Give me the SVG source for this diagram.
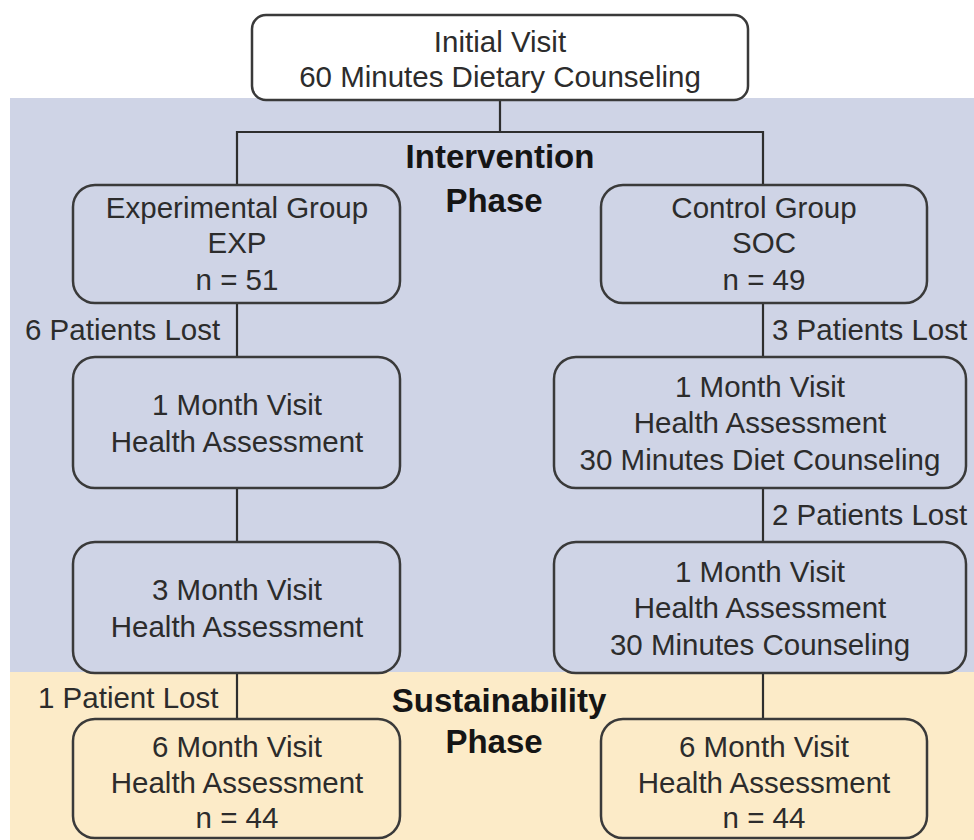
<svg xmlns="http://www.w3.org/2000/svg" width="974" height="840" viewBox="0 0 974 840">
  <style>
    .box { stroke: #3a3a3a; stroke-width: 2.5; fill: none; }
    .box-white { stroke: #3a3a3a; stroke-width: 2.5; fill: #ffffff; }
    .link { stroke: #2e2e2e; stroke-width: 2.2; fill: none; }
    text { font-family: "Liberation Sans", Arial, sans-serif; fill: #2c2c2c; }
    .t { font-size: 29.5px; text-anchor: middle; }
    .lbl { font-size: 29.5px; }
    .phase { font-size: 33px; font-weight: bold; text-anchor: middle; fill: #151515; }
  </style>

  <!-- background bands -->
  <rect x="0" y="0" width="974" height="840" fill="#ffffff"/>
  <rect id="band-intervention" x="10" y="98" width="964" height="574" fill="#cfd4e6"/>
  <rect id="band-sustainability" x="10" y="672" width="964" height="168" fill="#fcebc8"/>

  <!-- connectors -->
  <g id="connectors">
    <path class="link" d="M500 100 V132 M237 185 V132 H763 V185"/>
    <path class="link" d="M237 303 V357"/>
    <path class="link" d="M237 488 V542"/>
    <path class="link" d="M237 673 V719"/>
    <path class="link" d="M763 303 V357"/>
    <path class="link" d="M763 488 V542"/>
    <path class="link" d="M763 673 V719"/>
  </g>

  <!-- loss labels -->
  <g id="labels">
    <text class="lbl" x="25" y="340">6 Patients Lost</text>
    <text class="lbl" x="772" y="340">3 Patients Lost</text>
    <text class="lbl" x="772" y="525">2 Patients Lost</text>
    <text class="lbl" x="38" y="708">1 Patient Lost</text>
  </g>

  <!-- phase titles -->
  <g id="phase-intervention">
    <text class="phase" x="500" y="168">Intervention</text>
    <text class="phase" x="494" y="212">Phase</text>
  </g>
  <g id="phase-sustainability">
    <text class="phase" x="499" y="712">Sustainability</text>
    <text class="phase" x="494" y="753">Phase</text>
  </g>

  <!-- nodes -->
  <g id="initial-visit">
    <rect class="box-white" x="252" y="15" width="496" height="85" rx="14"/>
    <text class="t" x="500" y="52">Initial Visit</text>
    <text class="t" x="500" y="87">60 Minutes Dietary Counseling</text>
  </g>

  <g id="exp-group">
    <rect class="box" x="73" y="185" width="327" height="118" rx="22"/>
    <text class="t" x="237" y="218">Experimental Group</text>
    <text class="t" x="237" y="253">EXP</text>
    <text class="t" x="237" y="290">n = 51</text>
  </g>

  <g id="soc-group">
    <rect class="box" x="601" y="185" width="326" height="118" rx="22"/>
    <text class="t" x="764" y="218">Control Group</text>
    <text class="t" x="764" y="253">SOC</text>
    <text class="t" x="764" y="290">n = 49</text>
  </g>

  <g id="exp-1month">
    <rect class="box" x="73" y="357" width="327" height="131" rx="22"/>
    <text class="t" x="237" y="415">1 Month Visit</text>
    <text class="t" x="237" y="452">Health Assessment</text>
  </g>

  <g id="soc-1month">
    <rect class="box" x="554" y="357" width="412" height="131" rx="22"/>
    <text class="t" x="760" y="397">1 Month Visit</text>
    <text class="t" x="760" y="433">Health Assessment</text>
    <text class="t" x="760" y="470">30 Minutes Diet Counseling</text>
  </g>

  <g id="exp-3month">
    <rect class="box" x="73" y="542" width="327" height="131" rx="22"/>
    <text class="t" x="237" y="600">3 Month Visit</text>
    <text class="t" x="237" y="637">Health Assessment</text>
  </g>

  <g id="soc-second-visit">
    <rect class="box" x="554" y="542" width="412" height="131" rx="22"/>
    <text class="t" x="760" y="582">1 Month Visit</text>
    <text class="t" x="760" y="618">Health Assessment</text>
    <text class="t" x="760" y="655">30 Minutes Counseling</text>
  </g>

  <g id="exp-6month">
    <rect class="box" x="73" y="719" width="327" height="119" rx="22"/>
    <text class="t" x="237" y="757">6 Month Visit</text>
    <text class="t" x="237" y="793">Health Assessment</text>
    <text class="t" x="237" y="828">n = 44</text>
  </g>

  <g id="soc-6month">
    <rect class="box" x="601" y="719" width="326" height="119" rx="22"/>
    <text class="t" x="764" y="757">6 Month Visit</text>
    <text class="t" x="764" y="793">Health Assessment</text>
    <text class="t" x="764" y="828">n = 44</text>
  </g>
</svg>
